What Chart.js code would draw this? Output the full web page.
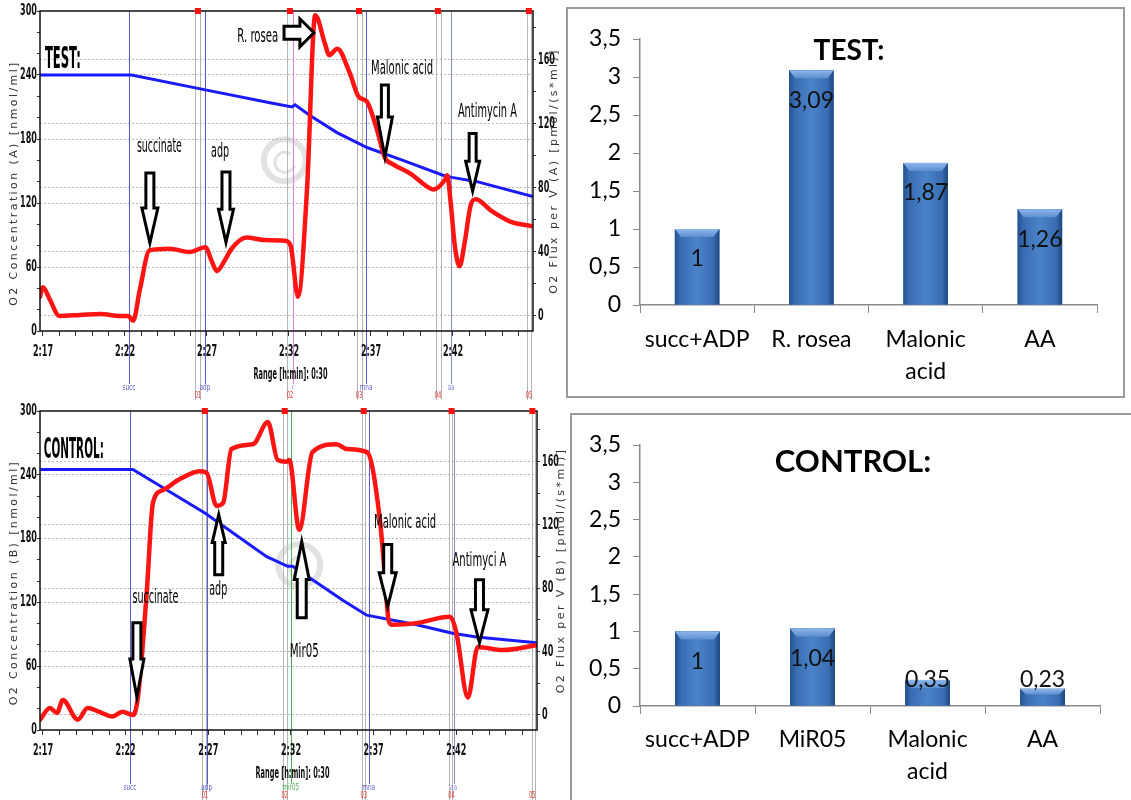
<!DOCTYPE html>
<html>
<head>
<meta charset="utf-8">
<title>Oxygraph traces and flux ratios</title>
<script src="https://cdn.jsdelivr.net/npm/chart.js@4.4.1/dist/chart.umd.min.js"></script>
<style>
  html, body { margin: 0; padding: 0; background: #fff; }
  body { position: relative; width: 1131px; height: 800px; overflow: hidden; }
  canvas { position: absolute; display: block; }
  .box { position: absolute; border: 2px solid #9a9a9a; box-sizing: border-box; }
</style>
</head>
<body>
<canvas id="testTrace" width="566" height="400" style="left:0;top:0"></canvas>
<canvas id="controlTrace" width="568" height="400" style="left:0;top:400px"></canvas>
<div class="box" style="left:566px;top:7px;width:559px;height:391px"><canvas id="testBars" width="555" height="387" style="left:0;top:0"></canvas></div>
<div class="box" style="left:570px;top:413px;width:563px;height:390px"><canvas id="controlBars" width="559" height="386" style="left:0;top:0"></canvas></div>
<script>
// time is in minutes after 2:00
const timeLabels = [17, 22, 27, 32, 37, 42];
const o2Ticks = [0, 20, 40, 60, 80, 100, 120, 140, 160, 180, 200, 220, 240, 260, 280, 300];
const fluxTicks = [0, 20, 40, 60, 80, 100, 120, 140, 160, 180];

// TEST trace
const testO2Time = [16.82, 22.4, 26.6, 30.84, 32.18, 32.37, 33.28, 34.93, 36.76, 38.95, 41.39, 41.94, 43.46, 46.88];
const testO2 = [240, 240, 227, 214, 210, 212, 202, 186, 172, 160, 146, 144, 140, 126];
const testFluxTime = [16.82, 17.0, 17.43, 18.0, 19.26, 20.5, 21.7, 22.2, 22.5, 22.9, 23.5, 24.7, 25.96, 26.9, 27.3, 27.6, 28.1, 28.5, 29.4, 30.5, 31.75, 32.1, 32.55, 33.1, 33.6, 34.2, 34.45, 34.95, 35.7, 36.25, 36.75, 37.35, 37.85, 38.3, 39.4, 40.4, 40.8, 41.5, 41.65, 41.85, 42.1, 42.4, 42.7, 43.1, 43.4, 44.3, 45.5, 46.88];
const testFlux = [12, 18, 10, 0, 0.6, 1.3, 0, 0, -3, 16, 41, 42, 40, 43, 34, 28, 35, 42, 49, 47.5, 47, 44, 12, 79, 188, 170, 163, 167, 152, 137, 134, 117, 99, 95, 89, 81, 79, 85, 88, 72, 45, 31, 45, 70, 73, 66, 59, 56];
const testEventTimes = [22.24, 26.88, 32.24, 36.7, 41.88];
const testEventNames = ['succ', 'adp', 'r', 'mna', 'aa'];
const testMarkTimes = [26.45, 32.06, 36.27, 41.08, 46.63];
const testGrayTimes = [26.27, 26.6, 31.88, 36.15, 36.45, 40.96, 41.27, 46.5, 46.76];

// CONTROL trace
const controlO2Time = [16.82, 22.44, 26.79, 30.53, 31.8, 32.1, 35.13, 36.58, 39.6, 41.77, 43.22, 46.85];
const controlO2 = [245, 245, 204, 163, 154, 154, 122, 108, 99, 91, 87.5, 82];
const controlFluxTime = [16.82, 17.42, 17.85, 18.2, 19.1, 19.7, 20.4, 21.2, 21.8, 22.44, 22.74, 23.28, 23.65, 24.25, 25.28, 26.49, 26.9, 27.5, 27.9, 28.4, 29.7, 30.6, 31.2, 31.74, 31.9, 32.5, 33.3, 34.76, 35.37, 36.6, 37.36, 37.7, 37.9, 38.1, 39.6, 41.6, 42.0, 42.7, 43.3, 44.8, 46.85];
const controlFlux = [-3, 4.4, 1.3, 9.5, -3, 4.4, 2, -1, 2, 0, 11, 78, 134, 142, 149, 154, 153, 132, 134, 168, 171, 185, 161, 160, 161, 117, 166, 171, 168, 166, 125, 85, 60, 57, 58, 62, 52, 11, 43, 41, 44];
const controlEventTimes = [22.26, 26.9, 31.99, 36.7, 41.83];
const controlEventNames = ['succ', 'adp', 'mir05', 'mna', 'aa'];
const controlMarkTimes = [26.79, 31.62, 36.4, 41.71, 46.6];
const controlGrayTimes = [26.6, 26.85, 31.5, 31.74, 36.27, 36.5, 41.53, 41.71, 46.55, 46.73];
const markNames = ['01', '02', '03', '04', '05'];

// bar charts
const testCategories = ['succ+ADP', 'R. rosea', ['Malonic', 'acid'], 'AA'];
const testValues = [1, 3.09, 1.87, 1.26];
const controlCategories = ['succ+ADP', 'MiR05', ['Malonic', 'acid'], 'AA'];
const controlValues = [1, 1.04, 0.35, 0.23];
const ratioTicks = [0, 0.5, 1, 1.5, 2, 2.5, 3, 3.5];

const NARROW = "'Liberation Sans Narrow', 'DejaVu Sans Condensed', sans-serif";

// draws text squeezed horizontally, either to a given width or by a given factor
function squeezeText(ctx, str, x, y, font, fit, align, color) {
  ctx.save();
  ctx.font = font;
  const w = ctx.measureText(str).width;
  const sx = fit.width ? fit.width / w : fit.scale;
  ctx.translate(x, y);
  ctx.scale(sx, 1);
  ctx.textAlign = align || 'center';
  ctx.textBaseline = 'middle';
  ctx.fillStyle = color || '#000';
  ctx.fillText(str, 0, 0);
  ctx.restore();
}

function hollowArrow(ctx, x0, y0, x1, y1, shaft, head, headLen) {
  const ang = Math.atan2(y1 - y0, x1 - x0);
  const len = Math.hypot(x1 - x0, y1 - y0);
  ctx.save();
  ctx.translate(x0, y0);
  ctx.rotate(ang);
  ctx.beginPath();
  ctx.moveTo(0, -shaft / 2);
  ctx.lineTo(len - headLen, -shaft / 2);
  ctx.lineTo(len - headLen, -head / 2);
  ctx.lineTo(len, 0);
  ctx.lineTo(len - headLen, head / 2);
  ctx.lineTo(len - headLen, shaft / 2);
  ctx.lineTo(0, shaft / 2);
  ctx.closePath();
  ctx.fillStyle = '#fff';
  ctx.fill();
  ctx.lineWidth = 3;
  ctx.strokeStyle = '#000';
  ctx.stroke();
  ctx.restore();
}

function verticalTitle(ctx, str, x, y) {
  ctx.save();
  ctx.font = '11px "DejaVu Sans", sans-serif';
  ctx.letterSpacing = '2.4px';
  ctx.fillStyle = '#333';
  ctx.textAlign = 'center';
  ctx.textBaseline = 'middle';
  ctx.translate(x, y);
  ctx.rotate(-Math.PI / 2);
  ctx.fillText(str, 0, 0);
  ctx.restore();
}

const oxyDeco = {
  id: 'oxyDeco',
  beforeDatasetsDraw(chart, args, o) {
    const {ctx, chartArea: a, scales: {x, y}} = chart;
    ctx.save();
    // faint logo
    const lx = x.getPixelForValue(o.logo[0]), ly = y.getPixelForValue(o.logo[1]);
    ctx.strokeStyle = 'rgba(160,160,160,0.3)';
    ctx.lineWidth = 6;
    ctx.beginPath(); ctx.arc(lx, ly, 21, 0, Math.PI * 2); ctx.stroke();
    ctx.lineWidth = 3;
    ctx.beginPath(); ctx.arc(lx, ly + 2, 10, 0.3, Math.PI * 1.7); ctx.stroke();
    // gray mark lines
    ctx.lineWidth = 1;
    ctx.strokeStyle = '#b5b5b5';
    o.gray.forEach(t => {
      const px = Math.round(x.getPixelForValue(t)) + 0.5;
      ctx.beginPath(); ctx.moveTo(px, a.top); ctx.lineTo(px, chart.height); ctx.stroke();
    });
    // event lines
    o.events.forEach((t, i) => {
      const px = Math.round(x.getPixelForValue(t)) + 0.5;
      ctx.strokeStyle = o.eventColors[i];
      ctx.beginPath(); ctx.moveTo(px, a.top); ctx.lineTo(px, chart.height - 16); ctx.stroke();
    });
    ctx.restore();
  },
  afterDatasetsDraw(chart, args, o) {
    const {ctx, chartArea: a, scales: {x, y, y2}} = chart;
    ctx.save();
    // frame
    ctx.strokeStyle = '#111';
    ctx.lineWidth = 1.5;
    ctx.strokeRect(a.left, a.top, a.right - a.left, a.bottom - a.top);
    // red marks on top edge + labels
    o.marks.forEach((t, i) => {
      const px = x.getPixelForValue(t);
      ctx.fillStyle = '#ff1010';
      ctx.fillRect(px - 3, a.top - 3, 6, 6);
      squeezeText(ctx, markNames[i], px, chart.height - 4, '8px ' + NARROW, {scale: 0.7}, 'center', '#e03030');
    });
    // event labels
    o.events.forEach((t, i) => {
      squeezeText(ctx, o.eventNames[i], x.getPixelForValue(t), chart.height - 12, '8px ' + NARROW, {scale: 0.8}, 'center', o.eventColors[i]);
    });
    // tick labels
    const tickFont = 'bold 15px ' + NARROW;
    y.ticks.forEach(tk => {
      if (tk.value % 60 === 0) squeezeText(ctx, String(tk.value), a.left - 3, y.getPixelForValue(tk.value), tickFont, {scale: 0.6}, 'right', '#111');
    });
    y2.ticks.forEach(tk => {
      if (tk.value % 40 === 0) squeezeText(ctx, String(tk.value), a.right + 5, y2.getPixelForValue(tk.value), tickFont, {scale: 0.6}, 'left', '#111');
    });
    timeLabels.forEach(t => {
      squeezeText(ctx, '2:' + t, x.getPixelForValue(t), a.bottom + 21, tickFont, {scale: 0.6}, 'center', '#111');
    });
    squeezeText(ctx, 'Range [h:min]: 0:30', (a.left + a.right) / 2 + 4, a.bottom + 44, tickFont, {width: 74}, 'center', '#111');
    // axis titles
    verticalTitle(ctx, o.leftTitle, 14, (a.top + a.bottom) / 2 + 12);
    verticalTitle(ctx, o.rightTitle, o.rightTitleX, (a.top + a.bottom) / 2);
    // annotations
    o.texts.forEach(tx => {
      squeezeText(ctx, tx.text, x.getPixelForValue(tx.t), y2.getPixelForValue(tx.v), tx.font, {width: tx.width}, tx.align || 'center', '#000');
    });
    o.arrows.forEach(ar => {
      hollowArrow(ctx, x.getPixelForValue(ar.t0), y2.getPixelForValue(ar.v0), x.getPixelForValue(ar.t1), y2.getPixelForValue(ar.v1), ar.shaft, ar.head, ar.headLen);
    });
    ctx.restore();
  }
};

function pairs(ts, vs) {
  return ts.map((t, i) => ({x: t, y: vs[i]}));
}

function traceChart(id, o2t, o2v, ft, fv, box, deco) {
  const leftGrid = c => (c.tick && c.tick.value % 60 === 0 && c.tick.value > 0 && c.tick.value < 300) ? '#b8b8b8' : 'rgba(0,0,0,0)';
  const rightGrid = c => (c.tick && c.tick.value % 40 === 0) ? '#b8b8b8' : 'rgba(0,0,0,0)';
  return new Chart(document.getElementById(id), {
    type: 'line',
    data: {
      datasets: [
        {data: pairs(ft, fv), yAxisID: 'y2', borderColor: '#ff1414', borderWidth: 4.5, pointRadius: 0, cubicInterpolationMode: 'monotone', borderCapStyle: 'round', borderJoinStyle: 'round'},
        {data: pairs(o2t, o2v), yAxisID: 'y', borderColor: '#1a1aff', borderWidth: 3, pointRadius: 0, tension: 0}
      ]
    },
    options: {
      responsive: false,
      animation: false,
      events: [],
      layout: {padding: {top: box.top, left: 0, right: 0, bottom: 0}},
      plugins: {legend: {display: false}, tooltip: {enabled: false}, oxyDeco: deco},
      scales: {
        x: {
          type: 'linear', min: 16.82, max: 46.88,
          afterFit: s => { s.height = box.xh; },
          ticks: {display: false, stepSize: 1, includeBounds: false},
          grid: {drawOnChartArea: false, tickLength: 5, tickColor: '#333'},
          border: {display: false}
        },
        y: {
          position: 'left', min: 0, max: 300,
          afterFit: s => { s.width = box.left; },
          afterBuildTicks: s => { s.ticks = o2Ticks.map(v => ({value: v})); },
          ticks: {display: false},
          grid: {color: leftGrid, tickColor: '#333', tickLength: 3},
          border: {display: false, dash: [2, 2]}
        },
        y2: {
          position: 'right', min: box.fluxMin, max: box.fluxMax,
          afterFit: s => { s.width = box.right; },
          afterBuildTicks: s => { s.ticks = fluxTicks.map(v => ({value: v})); },
          ticks: {display: false},
          grid: {color: rightGrid, tickColor: '#333', tickLength: 3},
          border: {display: false, dash: [2, 2]}
        }
      }
    },
    plugins: [oxyDeco]
  });
}

traceChart('testTrace', testO2Time, testO2, testFluxTime, testFlux,
  {top: 11, left: 40, right: 33, xh: 69, fluxMin: -9.4, fluxMax: 190.6},
  {
    events: testEventTimes, eventNames: testEventNames,
    eventColors: ['#5a5acc', '#5a5acc', '#e080e0', '#5a5acc', '#8a8ad8'],
    marks: testMarkTimes, gray: testGrayTimes, logo: [31.75, 160],
    leftTitle: 'O2 Concentration (A) [nmol/ml]', rightTitle: 'O2 Flux per V (A) [pmol/(s*ml)]', rightTitleX: 554,
    texts: [
      {text: 'TEST:', t: 17.12, v: 160, font: 'bold 30px ' + NARROW, width: 36, align: 'left'},
      {text: 'succinate', t: 24.1, v: 105.6, font: '19px ' + NARROW, width: 45},
      {text: 'adp', t: 27.8, v: 102.5, font: '19px ' + NARROW, width: 18},
      {text: 'R. rosea', t: 30.1, v: 174, font: '19px ' + NARROW, width: 41},
      {text: 'Malonic acid', t: 38.9, v: 154, font: '19px ' + NARROW, width: 62},
      {text: 'Antimycin A', t: 44.1, v: 127.5, font: '19px ' + NARROW, width: 59}
    ],
    arrows: [
      {t0: 23.52, v0: 89.4, t1: 23.52, v1: 45.6, shaft: 8, head: 16, headLen: 35},
      {t0: 28.16, v0: 90, t1: 28.16, v1: 46, shaft: 8, head: 15, headLen: 33},
      {t0: 31.7, v0: 177, t1: 33.52, v1: 177, shaft: 13, head: 28, headLen: 14},
      {t0: 37.85, v0: 144.4, t1: 37.85, v1: 99.4, shaft: 7, head: 15, headLen: 40},
      {t0: 43.2, v0: 114, t1: 43.2, v1: 78, shaft: 7, head: 14, headLen: 30}
    ]
  });

traceChart('controlTrace', controlO2Time, controlO2, controlFluxTime, controlFlux,
  {top: 11, left: 40, right: 31, xh: 70, fluxMin: -9.5, fluxMax: 192},
  {
    events: controlEventTimes, eventNames: controlEventNames,
    eventColors: ['#5a5acc', '#5a5acc', '#4caf50', '#5a5acc', '#8a8ad8'],
    marks: controlMarkTimes, gray: controlGrayTimes, logo: [32.5, 155],
    leftTitle: 'O2 Concentration (B) [nmol/ml]', rightTitle: 'O2 Flux per V (B) [pmol/(s*ml)]', rightTitleX: 561,
    texts: [
      {text: 'CONTROL:', t: 17.05, v: 167, font: 'bold 29px ' + NARROW, width: 60, align: 'left'},
      {text: 'succinate', t: 23.8, v: 74, font: '19px ' + NARROW, width: 46},
      {text: 'adp', t: 27.6, v: 79, font: '19px ' + NARROW, width: 18},
      {text: 'Mir05', t: 32.8, v: 40, font: '19px ' + NARROW, width: 29},
      {text: 'Malonic acid', t: 38.9, v: 121.5, font: '19px ' + NARROW, width: 62},
      {text: 'Antimyci A', t: 43.4, v: 97, font: '19px ' + NARROW, width: 54}
    ],
    arrows: [
      {t0: 22.68, v0: 58.2, t1: 22.68, v1: 11.4, shaft: 8, head: 14, headLen: 38},
      {t0: 27.63, v0: 88.6, t1: 27.63, v1: 126.6, shaft: 8, head: 13, headLen: 28},
      {t0: 32.65, v0: 61.4, t1: 32.65, v1: 109.5, shaft: 9, head: 15, headLen: 38},
      {t0: 37.85, v0: 107.6, t1: 37.85, v1: 68.4, shaft: 8, head: 17, headLen: 34},
      {t0: 43.4, v0: 85.4, t1: 43.4, v1: 45.6, shaft: 8, head: 17, headLen: 33}
    ]
  });

// ---- bar charts ----
const barDeco = {
  id: 'barDeco',
  afterDatasetsDraw(chart, args, o) {
    const {ctx} = chart;
    const meta = chart.getDatasetMeta(0);
    ctx.save();
    meta.data.forEach((el, i) => {
      const l = el.x - el.width / 2, r = el.x + el.width / 2;
      const g = ctx.createLinearGradient(l, 0, r, 0);
      g.addColorStop(0, '#23528f');
      g.addColorStop(0.14, '#3a6db3');
      g.addColorStop(0.5, '#4a83c9');
      g.addColorStop(0.86, '#3a6db3');
      g.addColorStop(1, '#1d4781');
      ctx.fillStyle = g;
      ctx.fillRect(l, el.y, el.width, el.base - el.y);
      // top bevel
      const bev = Math.min(8, (el.base - el.y) / 3);
      const gb = ctx.createLinearGradient(0, el.y, 0, el.y + bev);
      gb.addColorStop(0, '#8db6ea');
      gb.addColorStop(1, '#5d8fd0');
      ctx.fillStyle = gb;
      ctx.beginPath();
      ctx.moveTo(l, el.y); ctx.lineTo(r, el.y); ctx.lineTo(r - 6, el.y + bev); ctx.lineTo(l + 6, el.y + bev); ctx.closePath();
      ctx.fill();
      // value label
      ctx.font = '23px Lato, sans-serif';
      ctx.fillStyle = '#111';
      ctx.textAlign = 'center';
      ctx.textBaseline = 'middle';
      const ly = Math.min(el.y + 30, el.base - 26);
      ctx.fillText(String(o.values[i]).replace('.', ','), el.x, ly);
    });
    ctx.font = 'bold ' + o.titleSize + 'px Lato, sans-serif';
    ctx.fillStyle = '#000';
    ctx.textAlign = 'center';
    ctx.textBaseline = 'middle';
    ctx.fillText(o.title, o.titleX, o.titleY);
    ctx.restore();
  }
};

function ratioChart(id, cats, vals, box, title) {
  return new Chart(document.getElementById(id), {
    type: 'bar',
    data: {labels: cats, datasets: [{data: vals, backgroundColor: '#3b6fb6', barPercentage: 0.39, categoryPercentage: 1}]},
    options: {
      responsive: false,
      animation: false,
      events: [],
      layout: {padding: {top: box.top, right: box.right, left: 0, bottom: 0}},
      plugins: {legend: {display: false}, tooltip: {enabled: false}, barDeco: Object.assign({values: vals}, title)},
      scales: {
        x: {
          afterFit: s => { s.height = box.xh; },
          grid: {drawOnChartArea: false, tickLength: 8, tickColor: '#8a8a8a', offset: true},
          border: {color: '#8a8a8a', width: 1.5},
          ticks: {color: '#000', padding: box.catPad, font: {family: 'Lato, sans-serif', size: 23, lineHeight: 1.4}}
        },
        y: {
          min: 0, max: 3.5,
          afterFit: s => { s.width = box.left; },
          afterBuildTicks: s => { s.ticks = ratioTicks.map(v => ({value: v})); },
          grid: {drawOnChartArea: false, tickLength: 7, tickColor: '#8a8a8a'},
          border: {color: '#8a8a8a', width: 1.5},
          ticks: {color: '#000', padding: 12, font: {family: 'Lato, sans-serif', size: 23}, callback: v => String(v).replace('.', ',')}
        }
      }
    },
    plugins: [barDeco]
  });
}

ratioChart('testBars', testCategories, testValues, {top: 30, right: 26, left: 72, xh: 91, catPad: 10},
  {title: 'TEST:', titleSize: 28, titleX: 281, titleY: 42});
ratioChart('controlBars', controlCategories, controlValues, {top: 30, right: 31, left: 68, xh: 95, catPad: 9},
  {title: 'CONTROL:', titleSize: 31, titleX: 281, titleY: 47});
</script>
</body>
</html>
